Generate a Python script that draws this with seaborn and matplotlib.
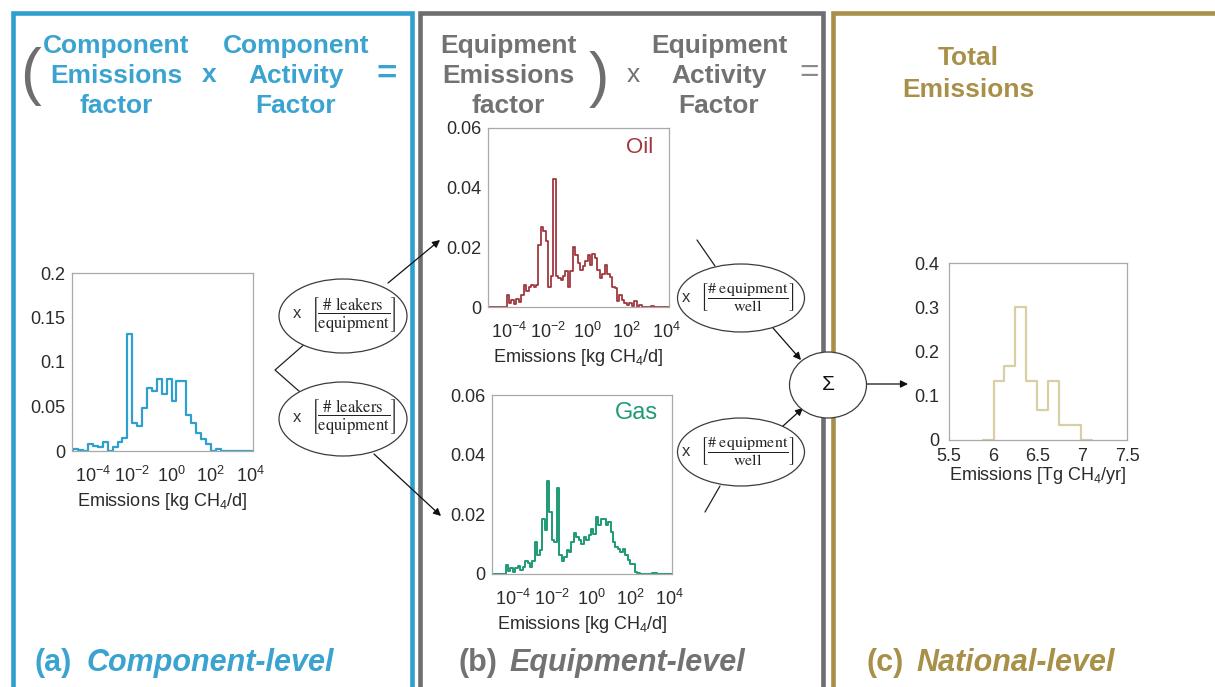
import numpy as np
import pandas as pd
import matplotlib
matplotlib.use("Agg")
import matplotlib.pyplot as plt
import seaborn as sns
from matplotlib.patches import Ellipse
from matplotlib.ticker import FixedLocator, FuncFormatter, NullLocator

# ---------------- data ----------------
# (a) component-level emission factor: fraction of leakers per 0.25-decade bin
component_start = -5.25
component_binwidth = 0.25
component_freq = [0.0, 0.002, 0.001, 0.0, 0.008, 0.006, 0.0045, 0.010, 0.0, 0.004,
                  0.010, 0.015, 0.131, 0.032, 0.028, 0.048, 0.071, 0.067, 0.081, 0.064,
                  0.081, 0.056, 0.079, 0.079, 0.040, 0.031, 0.020, 0.014, 0.008, 0.0,
                  0.002, 0.0, 0.0, 0.0, 0.0, 0.0, 0.0, 0.0]

# (b) equipment-level emission factors, 0.125-decade bins
equipment_binwidth = 0.125
oil_start = -5.125
oil_freq = [0.0, 0.0, 0.0, 0.0, 0.0, 0.0, 0.0, 0.0,
            0.0041, 0.0013, 0.0025, 0.0010, 0.0027, 0.0017, 0.0041, 0.0073, 0.0053, 0.0066,
            0.0075, 0.0066, 0.0075, 0.0209, 0.0267, 0.0254, 0.0220, 0.0066, 0.0103, 0.0429,
            0.0103, 0.0097, 0.0092, 0.0103, 0.0120, 0.0066, 0.0122, 0.0200, 0.0175, 0.0147,
            0.0125, 0.0136, 0.0153, 0.0175, 0.0142, 0.0178, 0.0164, 0.0125, 0.0097, 0.0110,
            0.0140, 0.0110, 0.0100, 0.0066, 0.0064, 0.0019, 0.0041, 0.0025, 0.0013, 0.0006,
            0.0013, 0.0002, 0.0019, 0.0, 0.0006, 0.0, 0.0, 0.0, 0.0, 0.0005,
            0.0, 0.0, 0.0, 0.0, 0.0, 0.0, 0.0]
gas_start = -5.125
gas_freq = [0.0, 0.0, 0.0, 0.0, 0.0, 0.0,
            0.0029, 0.0010, 0.0020, 0.0007, 0.0020, 0.0026, 0.0012, 0.0024, 0.0043, 0.0038,
            0.0024, 0.0043, 0.0107, 0.0063, 0.0079, 0.0186, 0.0147, 0.0311, 0.0208, 0.0113,
            0.0107, 0.0287, 0.0063, 0.0043, 0.0057, 0.0079, 0.0074, 0.0107, 0.0138, 0.0124,
            0.0113, 0.0102, 0.0124, 0.0113, 0.0130, 0.0152, 0.0135, 0.0191, 0.0163, 0.0186,
            0.0186, 0.0163, 0.0175, 0.0141, 0.0107, 0.0091, 0.0085, 0.0074, 0.0085, 0.0063,
            0.0046, 0.0035, 0.0035, 0.0007, 0.0004, 0.0001, 0.0, 0.0, 0.0, 0.0,
            0.0003, 0.0003,
            0.0, 0.0, 0.0, 0.0, 0.0, 0.0, 0.0]

# (c) national total emissions [Tg CH4/yr]
total_start = 5.8775
total_binwidth = 0.1225
total_freq = [0.0, 0.133, 0.167, 0.300, 0.133, 0.067, 0.133, 0.033, 0.033, 0.0]

log_tick_exponents = [-4, -2, 0, 2, 4]
log_xlim_exponents = (-5.07, 4.15)
component_yticks = [0, 0.05, 0.1, 0.15, 0.2]
equipment_yticks = [0, 0.02, 0.04, 0.06]
total_yticks = [0, 0.1, 0.2, 0.3, 0.4]
total_xticks = [5.5, 6, 6.5, 7, 7.5]

# ---------------- style ----------------
BLUE = "#2f9fce"
BLUE_TXT = "#3aa3d0"
GRAY = "#6e6e70"
GRAY_TXT = "#727272"
GOLD = "#a89049"
OIL = "#a0383e"
GAS = "#1e9a76"
TOTAL = "#d9cea4"
SPINE = "#a9a9a9"
TICK = "#2a2a2a"

sns.set_theme(style="white")
plt.rcParams["font.family"] = ["Liberation Sans", "DejaVu Sans"]
plt.rcParams["mathtext.fontset"] = "custom"
plt.rcParams["mathtext.rm"] = "Liberation Sans"
plt.rcParams["mathtext.it"] = "Liberation Sans:italic"
plt.rcParams["mathtext.bf"] = "Liberation Sans:bold"

W, H = 1215, 687
fig = plt.figure(figsize=(W / 100, H / 100), dpi=100)
fig.patch.set_facecolor("white")


def rect(l, t, r, b):
    return [l / W, 1 - b / H, (r - l) / W, (b - t) / H]


def hist_frame(start, width, freq, log=True):
    edges = start + width * np.arange(len(freq) + 1)
    centers = (edges[:-1] + edges[1:]) / 2
    x = 10.0 ** centers if log else centers
    return pd.DataFrame({"emissions": x, "freq": freq}), [float(e) for e in edges]


# ---------------- diagram layer ----------------
ov = fig.add_axes([0, 0, 1, 1])
ov.set_xlim(0, W)
ov.set_ylim(H, 0)
ov.axis("off")

border_kw = dict(lw=3.3, solid_joinstyle="miter", solid_capstyle="butt")
ov.plot([12.5, 12.5, 412, 412], [720, 12.5, 12.5, 720], color=BLUE, **border_kw)
ov.plot([420, 420, 822.5, 822.5], [720, 12.5, 12.5, 720], color=GRAY, **border_kw)
ov.plot([832.5, 832.5, 1230], [720, 12.5, 12.5], color=GOLD, **border_kw)

hdr = dict(fontsize=19, fontweight="bold", ha="center", va="baseline")
for txt, y in zip(["Component", "Emissions", "factor"], [53, 83, 113]):
    ov.text(116, y, txt, color=BLUE_TXT, **hdr)
for txt, y in zip(["Component", "Activity", "Factor"], [53, 83, 113]):
    ov.text(296, y, txt, color=BLUE_TXT, **hdr)
ov.text(209, 82, "x", color=BLUE_TXT, fontsize=19, fontweight="bold", ha="center", va="baseline")
ov.text(387, 74, "=", color=BLUE_TXT, fontsize=25, fontweight="bold", ha="center", va="center")
ov.text(30, 77, "(", color=GRAY, fontsize=45, ha="center", va="center")

for txt, y in zip(["Equipment", "Emissions", "factor"], [53, 83, 113]):
    ov.text(508, y, txt, color=GRAY_TXT, **hdr)
for txt, y in zip(["Equipment", "Activity", "Factor"], [53, 83, 113]):
    ov.text(719, y, txt, color=GRAY_TXT, **hdr)
ov.text(599, 79, ")", color=GRAY, fontsize=44, ha="center", va="center")
ov.text(633, 82, "x", color=GRAY_TXT, fontsize=19, ha="center", va="baseline")
ov.text(809, 73, "=", color="#8a8a8a", fontsize=24, ha="center", va="center")

for txt, y in zip(["Total", "Emissions"], [65, 97]):
    ov.text(968, y, txt, color=GOLD, **hdr)

# panel captions
cap = dict(fontsize=22, fontweight="bold", va="baseline", ha="left")
ov.text(35, 671, "(a)", color=BLUE_TXT, **cap)
ov.text(87, 671, "Component-level", color=BLUE_TXT, style="italic", **cap)
ov.text(458, 671, "(b)", color=GRAY_TXT, **cap)
ov.text(509, 671, "Equipment-level", color=GRAY_TXT, style="italic", **cap)
ov.text(867, 671, "(c)", color=GOLD, **cap)
ov.text(916, 671, "National-level", color=GOLD, style="italic", **cap)

# activity-factor bubbles
ell_kw = dict(facecolor="white", edgecolor="#3c3c3c", lw=0.9, zorder=3)
leak_frac = r"$\left[\dfrac{\mathrm{\#\ leakers}}{\mathrm{equipment}}\right]$"
equip_frac = r"$\left[\dfrac{\mathrm{\#\ equipment}}{\mathrm{well}}\right]$"
for cy in (316, 419):
    ov.add_patch(Ellipse((343, cy), 128, 74, **ell_kw))
    ov.text(297, cy - 2, "x", fontsize=12, color="#333333", ha="center", va="center", zorder=4)
    ov.text(353, cy - 2, leak_frac, fontsize=12, color="#222222", ha="center", va="center",
            math_fontfamily="stix", zorder=4)
for cy in (298, 452):
    ov.add_patch(Ellipse((741, cy), 127, 68, **ell_kw))
    ov.text(686, cy, "x", fontsize=12, color="#333333", ha="center", va="center", zorder=4)
    ov.text(747, cy, equip_frac, fontsize=11.5, color="#222222", ha="center", va="center",
            math_fontfamily="stix", zorder=4)

line_kw = dict(color="#222222", lw=0.9, zorder=2)
arrow_kw = dict(arrowstyle="-|>", color="#111111", lw=0.9, mutation_scale=11,
                shrinkA=0, shrinkB=0)
ov.plot([307, 275, 300], [342, 370, 392], **line_kw)
ov.annotate("", xy=(440, 240), xytext=(388, 283), arrowprops=arrow_kw)
ov.annotate("", xy=(441, 516), xytext=(374, 454), arrowprops=arrow_kw)
ov.plot([697, 715], [240, 266], **line_kw)
ov.annotate("", xy=(801, 360), xytext=(773, 328), arrowprops=arrow_kw)
ov.annotate("", xy=(803, 408), xytext=(783, 426), arrowprops=arrow_kw)
ov.plot([720, 705], [486, 512], **line_kw)

# summation node
ov.add_patch(Ellipse((828, 385), 77, 66, facecolor="white", edgecolor="#3c3c3c", lw=0.9, zorder=5))
ov.text(828, 385, "Σ", fontsize=15, color="#111111", ha="center", va="center", zorder=6)
ov.annotate("", xy=(908, 384), xytext=(867, 384), arrowprops=arrow_kw)


# ---------------- histograms ----------------
def style_axes(ax):
    ax.set_facecolor("white")
    for s in ax.spines.values():
        s.set_color(SPINE)
        s.set_linewidth(0.9)
        s.set_visible(True)
    ax.tick_params(length=0, labelsize=13, colors=TICK)
    ax.yaxis.set_major_formatter(FuncFormatter(lambda v, p: f"{v:g}"))
    ax.set_ylabel("")


def log_histogram(rect_px, start, width, freq, color, lw, yticks):
    ax = fig.add_axes(rect(*rect_px))
    df, edges = hist_frame(start, width, freq)
    sns.histplot(data=df, x="emissions", weights="freq", bins=edges, log_scale=True,
                 element="step", fill=False, color=color, linewidth=lw, ax=ax)
    style_axes(ax)
    ax.set_xlim(10.0 ** log_xlim_exponents[0], 10.0 ** log_xlim_exponents[1])
    ax.xaxis.set_major_locator(FixedLocator([10.0 ** e for e in log_tick_exponents]))
    ax.xaxis.set_minor_locator(NullLocator())
    ax.set_ylim(yticks[0], yticks[-1])
    ax.set_yticks(yticks)
    ax.tick_params(axis="x", pad=11)
    ax.tick_params(axis="y", pad=5)
    ax.set_xlabel("Emissions [kg CH$_4$/d]", fontsize=13, color=TICK, labelpad=3)
    return ax


ax_a = log_histogram((72, 273, 253, 451), component_start, component_binwidth,
                     component_freq, BLUE, 1.6, component_yticks)
ax_oil = log_histogram((488, 128, 669, 307), oil_start, equipment_binwidth,
                       oil_freq, OIL, 1.3, equipment_yticks)
ax_gas = log_histogram((492, 395, 672, 574), gas_start, equipment_binwidth,
                       gas_freq, GAS, 1.4, equipment_yticks)
ax_oil.text(0.84, 0.89, "Oil", transform=ax_oil.transAxes, fontsize=16, color=OIL,
            ha="center", va="center")
ax_gas.text(0.80, 0.90, "Gas", transform=ax_gas.transAxes, fontsize=17, color=GAS,
            ha="center", va="center")

ax_c = fig.add_axes(rect(949, 263, 1127, 440))
df_total, total_edges = hist_frame(total_start, total_binwidth, total_freq, log=False)
sns.histplot(data=df_total, x="emissions", weights="freq", bins=total_edges,
             element="step", fill=False, color=TOTAL, linewidth=1.6, ax=ax_c)
style_axes(ax_c)
ax_c.set_xlim(total_xticks[0], total_xticks[-1])
ax_c.set_xticks(total_xticks)
ax_c.xaxis.set_major_formatter(FuncFormatter(lambda v, p: f"{v:g}"))
ax_c.set_ylim(total_yticks[0], total_yticks[-1])
ax_c.set_yticks(total_yticks)
ax_c.tick_params(axis="x", pad=5.5)
ax_c.tick_params(axis="y", pad=7)
ax_c.set_xlabel("Emissions [Tg CH$_4$/yr]", fontsize=13, color=TICK, labelpad=0)

fig.savefig("out.png", dpi=100, facecolor="white")
